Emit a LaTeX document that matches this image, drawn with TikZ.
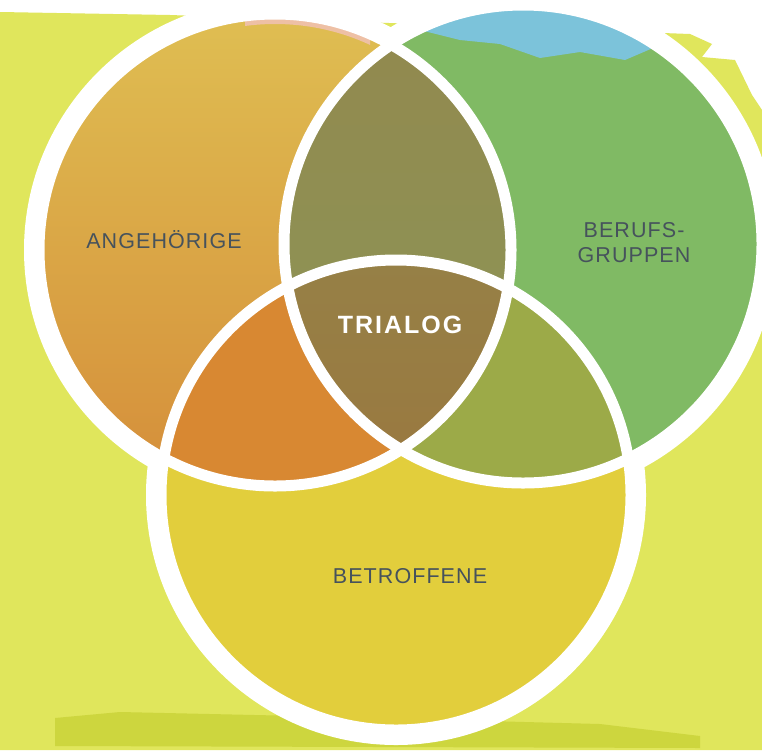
\documentclass[tikz,border=0pt]{standalone}
\usepackage{fontspec}
\setmainfont{Liberation Sans}
\usetikzlibrary{calc}
\definecolor{bgyel}  {RGB}{224,230, 92}
\definecolor{bgdark} {RGB}{205,214, 62}
\definecolor{angtop} {RGB}{223,190, 82}
\definecolor{angbot} {RGB}{213,142, 58}
\definecolor{berfill}{RGB}{128,186,100}
\definecolor{berblue}{RGB}{124,195,218}
\definecolor{betfill}{RGB}{226,206, 60}
\definecolor{lenstop}{RGB}{146,136, 78}
\definecolor{lensbot}{RGB}{140,152, 88}
\definecolor{angbet} {RGB}{216,136, 50}
\definecolor{berbet} {RGB}{156,170, 72}
\definecolor{tritop} {RGB}{150,128, 70}
\definecolor{tribot} {RGB}{158,112, 56}
\definecolor{rosa}   {RGB}{238,192,165}
\definecolor{slate}  {RGB}{ 70, 82, 92}
\newcommand{\rAng}{236}
\newcommand{\rBer}{239}
\newcommand{\rBet}{235}
\tikzset{
  % white brush rings
  RingOut/.style={draw=white,line width=30pt},
  RingIn/.style ={draw=white,line width=11pt},
  % circle labels
  Lbl/.style={font=\fontsize{21.5}{25}\selectfont\addfontfeature{LetterSpace=5},
              text=slate,inner sep=0pt,align=center},
  Mid/.style={font=\fontsize{25}{30}\selectfont\bfseries\addfontfeature{LetterSpace=8},
              text=white,inner sep=0pt},
}
\begin{document}
\begin{tikzpicture}[x=1pt,y=-1pt]
\useasboundingbox (0,0) rectangle (762,750);
% ── Ground ───────────────────────────────
\fill[white] (0,0) rectangle (762,750);
\fill[bgyel] (0,12) -- (170,15) -- (690,34) -- (712,44) -- (702,57) -- (735,60)
  -- (752,95) -- (762,110) -- (762,750) -- (0,750) -- cycle;
\fill[bgdark] (55,718) -- (120,712) -- (300,716) -- (450,720) -- (600,724)
  -- (700,736) -- (700,748) -- (55,746) -- cycle;
% ── Circles ──────────────────────────────
\coordinate (ang) at (275,250);
\coordinate (ber) at (523,244);
\coordinate (bet) at (396,495);
\foreach \c/\r in {ang/\rAng,ber/\rBer,bet/\rBet}
  \draw[RingOut] (\c) circle[radius=\r pt];
\shade[top color=angtop,bottom color=angbot] (ang) circle[radius=\rAng pt];
\fill[berfill] (ber) circle[radius=\rBer pt];
\begin{scope}
  \clip (ber) circle[radius=\rBer pt];
  \fill[berblue] (410,0) -- (660,0) -- (660,45) -- (625,60) -- (580,52)
    -- (540,58) -- (500,44) -- (460,40) -- (420,30) -- cycle;
\end{scope}
\fill[betfill] (bet) circle[radius=\rBet pt];
% ── Overlaps ─────────────────────────────
\begin{scope}
  \clip (ang) circle[radius=\rAng pt];
  \shade[top color=lenstop,bottom color=lensbot] (ber) circle[radius=\rBer pt];
  \fill[angbet] (bet) circle[radius=\rBet pt];
\end{scope}
\begin{scope}
  \clip (ber) circle[radius=\rBer pt];
  \fill[berbet] (bet) circle[radius=\rBet pt];
  \clip (ang) circle[radius=\rAng pt];
  \shade[top color=tritop,bottom color=tribot] (bet) circle[radius=\rBet pt];
\end{scope}
\begin{scope}
  \clip (245,0) rectangle (370,45);
  \draw[rosa,line width=6pt] (ang) circle[radius=229pt];
\end{scope}
\foreach \c/\r in {ang/\rAng,ber/\rBer,bet/\rBet}
  \draw[RingIn] (\c) circle[radius=\r pt];
% ── Labels ───────────────────────────────
\node[Lbl,anchor=base] (angl) at (164,248) {ANGEHÖRIGE};
\node[Lbl,anchor=base] (berl) at (634,262) {BERUFS-\\GRUPPEN};
\node[Lbl,anchor=base] (betl) at (410,583) {BETROFFENE};
\node[Mid,anchor=base] (tri)  at (400,333) {TRIALOG};
\end{tikzpicture}
\end{document}
